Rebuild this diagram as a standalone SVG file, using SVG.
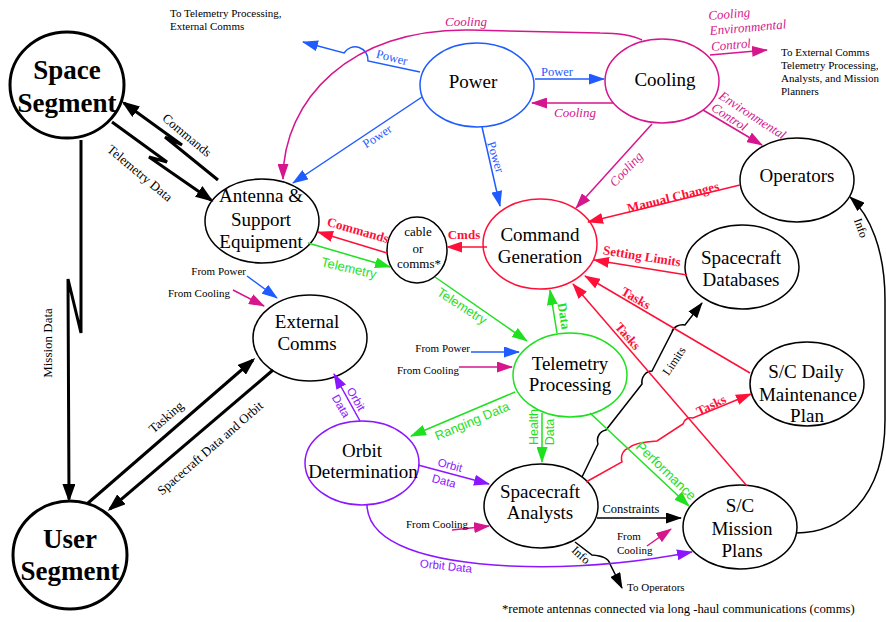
<svg xmlns="http://www.w3.org/2000/svg" width="886" height="622" viewBox="0 0 886 622">
<style>
text{font-family:"Liberation Serif","Times New Roman",serif;fill:#000}
.node{fill:#fff;stroke:#000;stroke-width:1.5}
.big{stroke-width:3}
.nt{font-size:19px;text-anchor:middle}
.bt{font-size:27px;font-weight:bold;text-anchor:middle}
.lab{font-size:13px;text-anchor:middle}
.s12{font-size:12px}
.sm{font-size:11px}
.sans{font-family:"Liberation Sans",Arial,sans-serif}
.bl{fill:#1f5cff}
.mg{fill:#d6168c;font-style:italic}
.rd{fill:#ff1038;font-weight:bold}
.gr{fill:#1fe01f}
.grb{fill:#1fe01f;font-weight:bold}
.pu{fill:#8c16ff;font-size:11.5px}
.kb{stroke:#000;stroke-width:3;fill:none}
.k{stroke:#000;stroke-width:1.5;fill:none}
.b{stroke:#1f5cff;stroke-width:1.5;fill:none}
.m{stroke:#d6168c;stroke-width:1.5;fill:none}
.r{stroke:#ff1038;stroke-width:1.5;fill:none}
.g{stroke:#1fe01f;stroke-width:1.5;fill:none}
.p{stroke:#8c16ff;stroke-width:1.5;fill:none}
</style>
<defs>
<marker id="mkb" viewBox="0 0 18 13" refX="15" refY="6.5" markerWidth="18" markerHeight="13" markerUnits="userSpaceOnUse" orient="auto"><path d="M0,0 L18,6.5 L0,13 z" fill="#000"/></marker>
<marker id="mk" viewBox="0 0 16 11" refX="15" refY="5.5" markerWidth="16" markerHeight="11" markerUnits="userSpaceOnUse" orient="auto"><path d="M0,0 L16,5.5 L0,11 z" fill="#000"/></marker>
<marker id="mb" viewBox="0 0 16 11" refX="15" refY="5.5" markerWidth="16" markerHeight="11" markerUnits="userSpaceOnUse" orient="auto"><path d="M0,0 L16,5.5 L0,11 z" fill="#1f5cff"/></marker>
<marker id="mm" viewBox="0 0 16 11" refX="15" refY="5.5" markerWidth="16" markerHeight="11" markerUnits="userSpaceOnUse" orient="auto"><path d="M0,0 L16,5.5 L0,11 z" fill="#d6168c"/></marker>
<marker id="mr" viewBox="0 0 16 11" refX="15" refY="5.5" markerWidth="16" markerHeight="11" markerUnits="userSpaceOnUse" orient="auto"><path d="M0,0 L16,5.5 L0,11 z" fill="#ff1038"/></marker>
<marker id="mg" viewBox="0 0 16 11" refX="15" refY="5.5" markerWidth="16" markerHeight="11" markerUnits="userSpaceOnUse" orient="auto"><path d="M0,0 L16,5.5 L0,11 z" fill="#1fe01f"/></marker>
<marker id="mp" viewBox="0 0 16 11" refX="15" refY="5.5" markerWidth="16" markerHeight="11" markerUnits="userSpaceOnUse" orient="auto"><path d="M0,0 L16,5.5 L0,11 z" fill="#8c16ff"/></marker>
</defs>

<g id="space-segment"><ellipse class="node big" cx="67" cy="85" rx="57" ry="53"/><text class="bt" x="67" y="79">Space</text><text class="bt" x="67" y="112">Segment</text></g>
<g id="user-segment"><ellipse class="node big" cx="70" cy="555" rx="57" ry="54"/><text class="bt" x="70" y="548">User</text><text class="bt" x="70" y="580">Segment</text></g>
<g id="antenna"><ellipse class="node" cx="262" cy="221" rx="57" ry="42"/><text class="nt" x="261" y="202">Antenna &amp;</text><text class="nt" x="261" y="226">Support</text><text class="nt" x="261" y="248">Equipment</text></g>
<g id="power"><ellipse class="node" cx="477" cy="85" rx="57" ry="42" style="stroke:#1f5cff"/><text class="nt" x="473" y="88">Power</text></g>
<g id="cooling"><ellipse class="node" cx="662" cy="81" rx="57" ry="42" style="stroke:#d6168c"/><text class="nt" x="665" y="86">Cooling</text></g>
<g id="operators"><ellipse class="node" cx="797" cy="180" rx="57" ry="42"/><text class="nt" x="797" y="182">Operators</text></g>
<g id="command-generation"><ellipse class="node" cx="540" cy="244" rx="57" ry="45" style="stroke:#ff1038"/><text class="nt" x="540" y="241">Command</text><text class="nt" x="540" y="263">Generation</text></g>
<g id="cable-comms"><ellipse class="node" cx="417" cy="250" rx="30" ry="33"/><text class="lab" x="418" y="236">cable</text><text class="lab" x="418" y="253">or</text><text class="lab" x="419" y="268">comms*</text></g>
<g id="spacecraft-databases"><ellipse class="node" cx="742" cy="267" rx="57" ry="42"/><text class="nt" x="741" y="264">Spacecraft</text><text class="nt" x="741" y="286">Databases</text></g>
<g id="external-comms"><ellipse class="node" cx="310" cy="338" rx="57" ry="43"/><text class="nt" x="307" y="328">External</text><text class="nt" x="307" y="350">Comms</text></g>
<g id="telemetry-processing"><ellipse class="node" cx="570" cy="375" rx="57" ry="42" style="stroke:#1fe01f"/><text class="nt" x="570" y="370">Telemetry</text><text class="nt" x="570" y="391">Processing</text></g>
<g id="sc-daily-maintenance"><ellipse class="node" cx="807" cy="384" rx="57" ry="42"/><text class="nt" x="806" y="378">S/C Daily</text><text class="nt" x="808" y="401">Maintenance</text><text class="nt" x="807" y="422">Plan</text></g>
<g id="orbit-determination"><ellipse class="node" cx="362" cy="463" rx="57" ry="42" style="stroke:#8c16ff"/><text class="nt" x="362" y="457">Orbit</text><text class="nt" x="363" y="478">Determination</text></g>
<g id="spacecraft-analysts"><ellipse class="node" cx="541" cy="506" rx="57" ry="42"/><text class="nt" x="540" y="498">Spacecraft</text><text class="nt" x="540" y="519">Analysts</text></g>
<g id="sc-mission-plans"><ellipse class="node" cx="740" cy="527" rx="57" ry="42"/><text class="nt" x="740" y="512">S/C</text><text class="nt" x="742" y="535">Mission</text><text class="nt" x="742" y="557">Plans</text></g>

<g id="connectors">
<path class="kb" d="M218,180 L165,137 L182,145 L124,103" marker-end="url(#mkb)"/>
<path class="kb" d="M112,122 L167,162 L149,157 L211,200" marker-end="url(#mkb)"/>
<path class="kb" d="M81,140 L81,333 L68,279 L69,499" marker-end="url(#mkb)"/>
<path class="kb" d="M88,503 L253,360" marker-end="url(#mkb)"/>
<path class="kb" d="M273,370 L110,509" marker-end="url(#mkb)"/>
<path class="k" d="M597,518 L681,518" marker-end="url(#mk)"/>
<path class="k" d="M582,477 L598,444 C596,437 600,431 606,430 L642,384 C641,377 646,371 652,371 L672,332 C673,327 679,324 685,325 L702,303" marker-end="url(#mk)"/>
<path class="k" d="M575,542 L592,555 Q608,556 610,564 L622,588" marker-end="url(#mk)"/>
<path class="k" d="M796,533 C840,533 885,500 885,420 L885,300 C885,250 870,215 850,197" marker-end="url(#mk)"/>

<path class="b" d="M420,72 L368,61 A13,13 0 0 0 344,53 L303,42" marker-end="url(#mb)"/>
<path class="b" d="M422,97 L293,183" marker-end="url(#mb)"/>
<path class="b" d="M535,79 L604,79" marker-end="url(#mb)"/>
<path class="b" d="M482,127 L500,206" marker-end="url(#mb)"/>
<path class="b" d="M247,276 L277,298" marker-end="url(#mb)"/>
<path class="b" d="M471,352 L519,352" marker-end="url(#mb)"/>

<path class="m" d="M642,40 Q628,33 600,33 L470,30 C350,28 283,100 283,179" marker-end="url(#mm)"/>
<path class="m" d="M613,103 L532,103" marker-end="url(#mm)"/>
<path class="m" d="M710,55 L767,50" marker-end="url(#mm)"/>
<path class="m" d="M703,110 L762,145" marker-end="url(#mm)"/>
<path class="m" d="M652,124 L576,208" marker-end="url(#mm)"/>
<path class="m" d="M233,290 L264,306" marker-end="url(#mm)"/>
<path class="m" d="M459,367 L512,367" marker-end="url(#mm)"/>
<path class="m" d="M452,530 L489,526" marker-end="url(#mm)"/>
<path class="m" d="M647,546 L671,529" marker-end="url(#mm)"/>

<path class="r" d="M487,247 L447,247" marker-end="url(#mr)"/>
<path class="r" d="M387,253 L318,232" marker-end="url(#mr)"/>
<path class="r" d="M740,185 L588,222" marker-end="url(#mr)"/>
<path class="r" d="M687,275 L594,260" marker-end="url(#mr)"/>
<path class="r" d="M750,373 L585,276" marker-end="url(#mr)"/>
<path class="r" d="M747,486 L573,284" marker-end="url(#mr)"/>
<path class="r" d="M586,482 L622,462 C620,455 624,449 629,448 C633,444 640,442 657,441 L683,424 C684,419 689,417 693,418 L751,394" marker-end="url(#mr)"/>

<path class="g" d="M308,243 L390,267" marker-end="url(#mg)"/>
<path class="g" d="M435,277 L527,341" marker-end="url(#mg)"/>
<path class="g" d="M557,333 L550,290" marker-end="url(#mg)"/>
<path class="g" d="M542,413 L542,462" marker-end="url(#mg)"/>
<path class="g" d="M515,392 L411,436" marker-end="url(#mg)"/>
<path class="g" d="M590,413 L689,506" marker-end="url(#mg)"/>

<path class="p" d="M360,421 L334,374" marker-end="url(#mp)"/>
<path class="p" d="M418,465 L489,484" marker-end="url(#mp)"/>
<path class="p" d="M367,505 C368,545 430,562 510,566 C580,569 640,562 692,552" marker-end="url(#mp)"/>

<text class="lab" transform="translate(187,135) rotate(40)" y="4.5">Commands</text>
<text class="lab" transform="translate(140,173) rotate(40)" y="4.5">Telemetry Data</text>
<text class="lab" transform="translate(47,343) rotate(-90)" y="4.5">Mission Data</text>
<text class="lab" transform="translate(166,417) rotate(-41)" y="4.5">Tasking</text>
<text class="lab" transform="translate(210,448) rotate(-41)" y="4.5">Spacecraft Data and Orbit</text>
<text class="lab s12" transform="translate(674,361) rotate(-56)" y="4">Limits</text>
<text class="lab s12" transform="translate(581,555) rotate(42)" y="4">Info</text>
<text class="lab s12" transform="translate(861,228) rotate(70)" y="4">Info</text>
<text class="lab" style="font-size:12.5px" x="631" y="513">Constraints</text>

<text class="lab bl" style="font-size:12.5px" transform="translate(392,57) rotate(14)" y="4.5">Power</text>
<text class="lab bl" style="font-size:12.5px" transform="translate(377,136) rotate(-33)" y="4.5">Power</text>
<text class="lab bl" style="font-size:12.5px" x="557" y="76">Power</text>
<text class="lab bl" style="font-size:12.5px" transform="translate(496,157) rotate(73)" y="4.5">Power</text>

<text class="lab mg" x="466" y="26">Cooling</text>
<text class="lab mg" x="575" y="117">Cooling</text>
<text class="lab mg" transform="translate(626,169) rotate(-47)" y="4.5">Cooling</text>
<g transform="rotate(-5 710 35)"><text class="mg" style="font-size:13px" x="710" y="20">Cooling</text><text class="mg" style="font-size:13px" x="710" y="35">Environmental</text><text class="mg" style="font-size:13px" x="710" y="51">Control</text></g>
<g transform="translate(718,98) rotate(33)"><text class="mg" style="font-size:13px" x="0" y="0">Environmental</text><text class="mg" style="font-size:13px" x="0" y="14">Control</text></g>

<text class="lab rd" transform="translate(358,230) rotate(16)" y="4.5">Commands</text>
<text class="lab rd" x="464" y="239">Cmds</text>
<text class="lab rd" transform="translate(673,197) rotate(-14)" y="4.5">Manual Changes</text>
<text class="lab rd" transform="translate(642,256) rotate(9)" y="4.5">Setting Limits</text>
<text class="lab rd" transform="translate(636,298) rotate(30)" y="4.5">Tasks</text>
<text class="lab rd" transform="translate(628,336) rotate(49)" y="4.5">Tasks</text>
<text class="lab rd" transform="translate(711,405) rotate(-26)" y="4.5">Tasks</text>

<text class="lab gr sans" transform="translate(349,268) rotate(13)" y="4.5">Telemetry</text>
<text class="lab gr sans" transform="translate(462,306) rotate(33)" y="4.5">Telemetry</text>
<text class="lab grb" transform="translate(564,316) rotate(81)" y="4.5">Data</text>
<text class="lab gr sans" style="font-size:12.5px" transform="translate(533,427) rotate(-90)" y="4.5">Health</text>
<text class="lab gr sans" style="font-size:12.5px" transform="translate(549,432) rotate(-90)" y="4.5">Data</text>
<text class="lab gr sans" transform="translate(472,421) rotate(-23)" y="4.5">Ranging Data</text>
<text class="lab gr sans" style="font-size:13.5px" transform="translate(666,471) rotate(44)" y="4.5">Performance</text>

<text class="lab pu sans" transform="translate(356,399) rotate(60)" y="4">Orbit</text>
<text class="lab pu sans" transform="translate(341,406) rotate(60)" y="4">Data</text>
<text class="lab pu sans" transform="translate(450,465) rotate(15)" y="4">Orbit</text>
<text class="lab pu sans" transform="translate(444,481) rotate(15)" y="4">Data</text>
<text class="lab pu sans" transform="translate(446,566) rotate(6)" y="4">Orbit Data</text>

<text class="sm" x="246" y="275" text-anchor="end">From Power</text>
<text class="sm" x="230" y="297" text-anchor="end">From Cooling</text>
<text class="sm" x="470" y="352" text-anchor="end">From Power</text>
<text class="sm" x="459" y="374" text-anchor="end">From Cooling</text>
<text class="sm" x="468" y="528" text-anchor="end">From Cooling</text>
<text class="sm" x="617" y="540">From</text>
<text class="sm" x="617" y="554">Cooling</text>
<text class="sm" x="627" y="591">To Operators</text>
</g>

<g id="notes">
<text class="sm" x="170" y="17">To Telemetry Processing,</text>
<text class="sm" x="170" y="30">External Comms</text>
<text class="sm" x="781" y="56">To External Comms</text>
<text class="sm" x="781" y="69">Telemetry Processing,</text>
<text class="sm" x="781" y="82">Analysts, and Mission</text>
<text class="sm" x="781" y="95">Planners</text>
<text style="font-size:12.7px" x="502" y="613">*remote antennas connected via long -haul communications (comms)</text>
</g>
</svg>
